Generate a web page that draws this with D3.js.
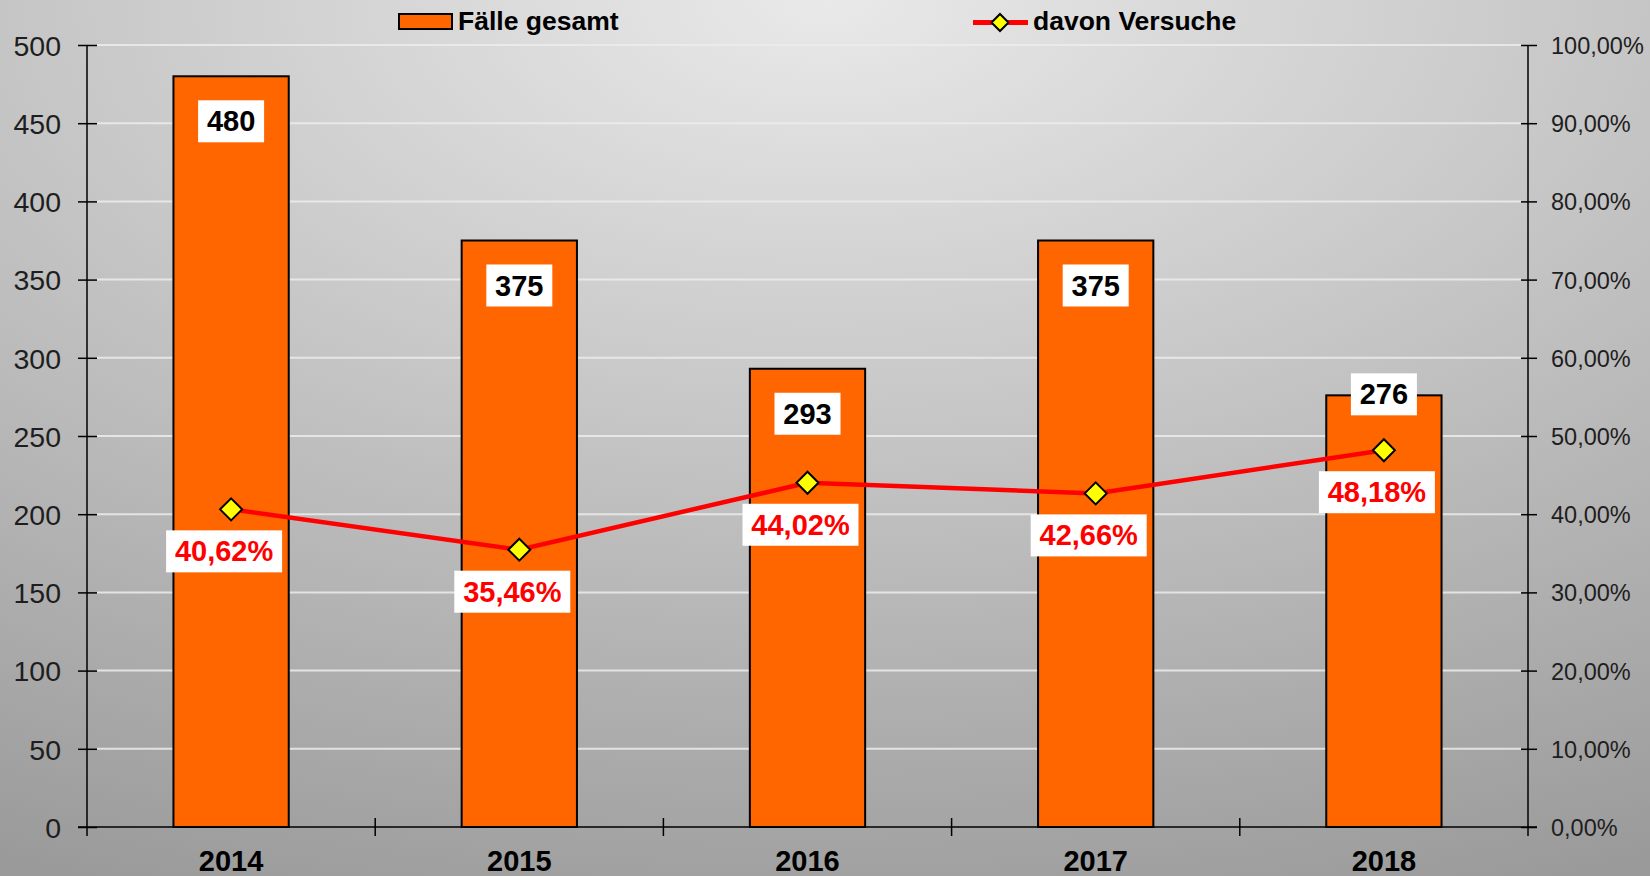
<!DOCTYPE html>
<html>
<head>
<meta charset="utf-8">
<script src="https://cdn.jsdelivr.net/npm/d3@7"></script>
<style>
  body { margin: 0; overflow: hidden; }
  text { font-family: "Liberation Sans", Arial, sans-serif; }
</style>
</head>
<body>
<svg id="chart" width="1650" height="876"></svg>
<script>
// data
var years = ['2014', '2015', '2016', '2017', '2018']
var faelle = [480, 375, 293, 375, 276]
var versuche = [40.62, 35.46, 44.02, 42.66, 48.18]
var leftTicks = [0, 50, 100, 150, 200, 250, 300, 350, 400, 450, 500]
var rightTicks = [0, 10, 20, 30, 40, 50, 60, 70, 80, 90, 100]

var svg = d3.select('#chart')
var W = 1650, H = 876
var padL = 87, padR = 1528, padT = 45, padB = 827

// background
var defs = svg.append('defs')
var grad = defs.append('radialGradient').attr('id', 'bg')
  .attr('cx', '50%').attr('cy', '0%').attr('r', '110%')
  .attr('fx', '50%').attr('fy', '0%')
grad.append('stop').attr('offset', '0%').attr('stop-color', '#e9e9e9')
grad.append('stop').attr('offset', '100%').attr('stop-color', '#9a9a9a')
svg.append('rect').attr('width', W).attr('height', H).attr('fill', 'url(#bg)')

var x = d3.scaleBand().domain(years).range([padL, padR])
  .paddingInner(0.6).paddingOuter(0.3)
var y = d3.scaleLinear().domain([0, 500]).range([padB, padT])
var y2 = d3.scaleLinear().domain([0, 100]).range([padB, padT])

// gridlines
svg.append('g').selectAll('line')
  .data(leftTicks.filter(function(d){ return d > 0 }))
  .enter().append('line')
  .attr('x1', padL + 10).attr('x2', padR - 7)
  .attr('y1', function(d){ return y(d) }).attr('y2', function(d){ return y(d) })
  .attr('stroke', '#ececec').attr('stroke-opacity', 0.85).attr('stroke-width', 2)

// bars
svg.append('g').selectAll('rect')
  .data(faelle)
  .enter().append('rect')
  .attr('x', function(d, i){ return x(years[i]) })
  .attr('y', function(d){ return y(d) })
  .attr('width', x.bandwidth())
  .attr('height', function(d){ return y(0) - y(d) })
  .attr('fill', '#ff6600')
  .attr('stroke', '#000').attr('stroke-width', 2)

// left axis
var ax = svg.append('g').attr('transform', 'translate(' + padL + ',0)')
  .call(d3.axisLeft(y).tickValues(leftTicks).tickSizeOuter(0).tickSize(10))
ax.select('.domain').remove()
ax.selectAll('.tick line').attr('x1', -9).attr('x2', 10).attr('stroke', '#000').attr('stroke-width', 1.5)
ax.selectAll('.tick text').attr('x', -26).attr('dy', '0.36em')
  .attr('font-size', 28.5).attr('fill', '#1e1e1e')
  .style('font-family', '"Liberation Sans", Arial, sans-serif')
ax.append('line').attr('x1', 0).attr('x2', 0).attr('y1', padT).attr('y2', padB + 9)
  .attr('stroke', '#000').attr('stroke-width', 1.5)

// right axis
var ax2 = svg.append('g').attr('transform', 'translate(' + padR + ',0)')
  .call(d3.axisRight(y2).tickValues(rightTicks).tickSize(9)
    .tickFormat(function(d){ return d3.format('.2f')(d).replace('.', ',') + '%' }))
ax2.select('.domain').remove()
ax2.selectAll('.tick line').attr('x1', -7).attr('x2', 9).attr('stroke', '#000').attr('stroke-width', 1.5)
ax2.selectAll('.tick text').attr('x', 23).attr('dy', '0.36em')
  .attr('font-size', 23.5).attr('fill', '#1e1e1e')
  .style('font-family', '"Liberation Sans", Arial, sans-serif')
ax2.append('line').attr('x1', 0).attr('x2', 0).attr('y1', padT).attr('y2', padB + 9)
  .attr('stroke', '#000').attr('stroke-width', 1.5)

// x axis
svg.append('line').attr('x1', padL - 9).attr('x2', padR + 9)
  .attr('y1', padB).attr('y2', padB)
  .attr('stroke', '#000').attr('stroke-width', 1.5)
var bounds = years.slice(1).map(function(c, i){
  return (x(years[i]) + x.bandwidth() + x(c)) / 2
})
svg.append('g').selectAll('line').data(bounds).enter().append('line')
  .attr('x1', function(d){ return d }).attr('x2', function(d){ return d })
  .attr('y1', padB - 9).attr('y2', padB + 9)
  .attr('stroke', '#000').attr('stroke-width', 1.5)
svg.append('g').selectAll('text').data(years).enter().append('text')
  .attr('x', function(d){ return x(d) + x.bandwidth() / 2 })
  .attr('y', 871)
  .attr('text-anchor', 'middle')
  .attr('font-size', 29).attr('font-weight', 'bold').attr('fill', '#000')
  .text(function(d){ return d })

// line
var cx = function(i){ return x(years[i]) + x.bandwidth() / 2 }
var line = d3.line()
  .x(function(d, i){ return cx(i) })
  .y(function(d){ return y2(d) })
svg.append('path').datum(versuche)
  .attr('d', line).attr('fill', 'none')
  .attr('stroke', '#ff0000').attr('stroke-width', 4.5)

var diamond = function(s){ return 'M0,' + (-s) + 'L' + s + ',0L0,' + s + 'L' + (-s) + ',0Z' }
svg.append('g').selectAll('path').data(versuche).enter().append('path')
  .attr('transform', function(d, i){ return 'translate(' + cx(i) + ',' + y2(d) + ')' })
  .attr('d', diamond(11))
  .attr('fill', '#ffff00').attr('stroke', '#000').attr('stroke-width', 2)

// bar value labels
var bl = svg.append('g')
faelle.forEach(function(v, i){
  var boxTop = y(v) + 24
  if (boxTop + 42 > y2(versuche[i]) - 15) boxTop = y(v) - 22
  var g = bl.append('g').attr('transform', 'translate(' + cx(i) + ',' + boxTop + ')')
  g.append('rect').attr('x', -33).attr('y', 0).attr('width', 66).attr('height', 42).attr('fill', '#fff')
  g.append('text').attr('x', 0).attr('y', 31).attr('text-anchor', 'middle')
    .attr('font-size', 29).attr('font-weight', 'bold').attr('fill', '#000')
    .text(v)
})

// percent labels
var pl = svg.append('g')
versuche.forEach(function(v, i){
  var g = pl.append('g').attr('transform', 'translate(' + (cx(i) - 7) + ',' + (y2(v) + 42) + ')')
  g.append('rect').attr('x', -58).attr('y', -21).attr('width', 116).attr('height', 42).attr('fill', '#fff')
  g.append('text').attr('x', 0).attr('y', 10).attr('text-anchor', 'middle')
    .attr('font-size', 29).attr('font-weight', 'bold').attr('fill', '#ff0000')
    .text(d3.format('.2f')(v).replace('.', ',') + '%')
})

// legend
var lg = svg.append('g')
lg.append('rect').attr('x', 399).attr('y', 14).attr('width', 53).attr('height', 15)
  .attr('fill', '#ff6600').attr('stroke', '#000').attr('stroke-width', 2)
lg.append('text').attr('x', 458).attr('y', 30)
  .attr('font-size', 26.5).attr('font-weight', 'bold').attr('fill', '#000')
  .text('Fälle gesamt')
lg.append('line').attr('x1', 973).attr('x2', 1028).attr('y1', 22.5).attr('y2', 22.5)
  .attr('stroke', '#ff0000').attr('stroke-width', 5)
lg.append('path').attr('transform', 'translate(1000,22.5)').attr('d', diamond(8.5))
  .attr('fill', '#ffff00').attr('stroke', '#000').attr('stroke-width', 2)
lg.append('text').attr('x', 1033).attr('y', 30)
  .attr('font-size', 26.5).attr('font-weight', 'bold').attr('fill', '#000')
  .text('davon Versuche')
</script>
</body>
</html>
